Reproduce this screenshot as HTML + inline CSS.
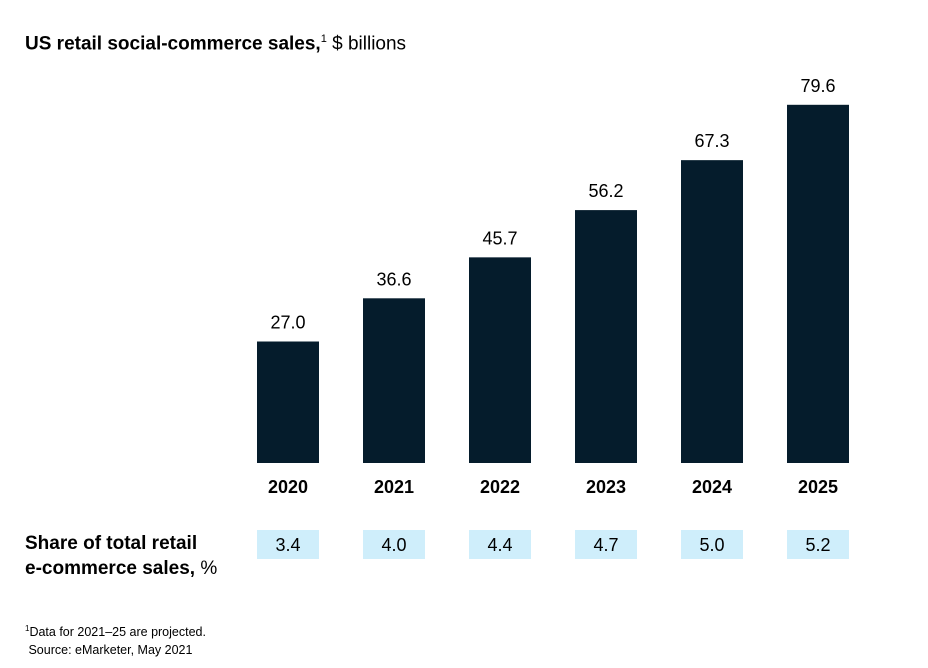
<!DOCTYPE html>
<html><head><meta charset="utf-8"><style>
body{margin:0;background:#fff;font-family:"Liberation Sans",sans-serif;color:#000}
#wrap{position:relative;width:928px;height:668px;overflow:hidden}
.t{position:absolute;white-space:nowrap}
</style></head><body>
<div id="wrap">
<div class="t" style="left:25px;top:33px;font-size:19px"><b>US retail social-commerce sales,</b><sup style="font-size:11px">1</sup> $ billions</div>
<svg id="svg" width="928" height="668" style="position:absolute;left:0;top:0"></svg>
<div class="t" style="left:25px;top:531px;font-size:19px;font-weight:bold;line-height:25px">Share of total retail<br>e-commerce sales, <span style="font-weight:normal">%</span></div>
<div class="t" style="left:25px;top:620px;font-size:12.5px;line-height:18px"><sup style="font-size:8px">1</sup>Data for 2021–25 are projected.<br>&nbsp;Source: eMarketer, May 2021</div>
</div>
<script>
const years=["2020","2021","2022","2023","2024","2025"];
const sales=[27.0,36.6,45.7,56.2,67.3,79.6];
const share=[3.4,4.0,4.4,4.7,5.0,5.2];
const NS="http://www.w3.org/2000/svg";
const svg=document.getElementById('svg');
const base=463,k=4.5;
function xPos(i){return 257+i*106;}
function yPos(v){return base-v*k;}
function mk(tag,attrs,txt){const e=document.createElementNS(NS,tag);for(const a in attrs)e.setAttribute(a,attrs[a]);if(txt!==undefined)e.textContent=txt;svg.appendChild(e);return e;}
years.forEach((y,i)=>{
 const x=xPos(i),top=yPos(sales[i]);
 const b=mk('rect',{x:x,y:top,width:62,height:base-top,fill:'#051c2c'});
 
 
 const l=mk('text',{x:x+31,y:top-13,'text-anchor':'middle','font-size':18,'font-family':'Liberation Sans'},sales[i].toFixed(1));
 
 
 const yl=mk('text',{x:x+31,y:493,'text-anchor':'middle','font-size':18,'font-weight':'bold','font-family':'Liberation Sans'},y);
 
 
 const sb=mk('rect',{x:x,y:530,width:62,height:29,fill:'#cfeefb'});
 
 
 const st=mk('text',{x:x+31,y:551,'text-anchor':'middle','font-size':18,'font-family':'Liberation Sans'},share[i].toFixed(1));
 
 
});
</script>
</body></html>
